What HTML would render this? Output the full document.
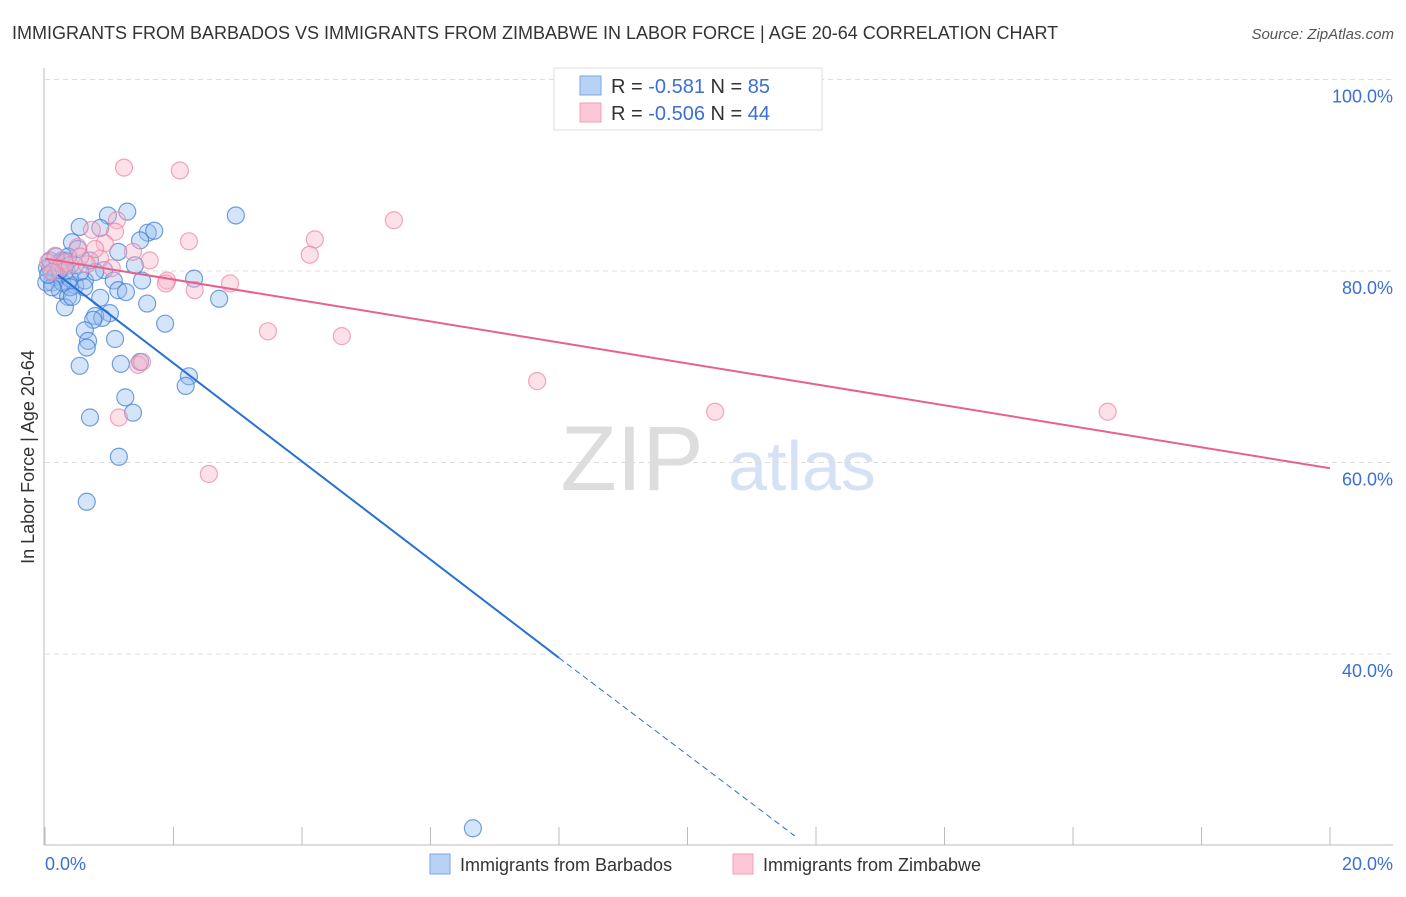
<!DOCTYPE html>
<html><head><meta charset="utf-8"><style>
body{margin:0;background:#fff;font-family:"Liberation Sans",sans-serif}
svg text{font-family:"Liberation Sans",sans-serif}
</style></head><body>
<svg id="chart" width="1406" height="892" xmlns="http://www.w3.org/2000/svg">
<text x="12" y="39" font-size="18" fill="#333">IMMIGRANTS FROM BARBADOS VS IMMIGRANTS FROM ZIMBABWE IN LABOR FORCE | AGE 20-64 CORRELATION CHART</text>
<text x="1394" y="39" font-size="15" fill="#555" text-anchor="end" font-style="italic">Source: ZipAtlas.com</text>
<g>
<text x="632" y="490" font-size="92" fill="#ddd" font-family="Liberation Serif,serif" text-anchor="middle">ZIP</text>
<text x="802" y="490" font-size="70" fill="#d5e2f5" text-anchor="middle">atlas</text>
</g>
<g id="grid"></g>
<g id="axes"></g>
<g id="pts"></g>
<g id="trend"></g>
<text transform="translate(34,457) rotate(-90)" font-size="18" fill="#333" text-anchor="middle">In Labor Force | Age 20-64</text>
<g>
<rect x="554" y="68" width="268" height="62" fill="#fff" stroke="#ddd"/>
<rect x="580" y="76" width="21" height="19" fill="#b8d2f5" stroke="#7aa6e6"/>
<rect x="580" y="103" width="21" height="19" fill="#fcc8d8" stroke="#f0a0b8"/>
<text x="611" y="93" font-size="20" fill="#333">R = <tspan fill="#3b6fd4"> -0.581</tspan>   N = <tspan fill="#3b6fd4">85</tspan></text>
<text x="611" y="120" font-size="20" fill="#333">R = <tspan fill="#3b6fd4">-0.506</tspan>   N = <tspan fill="#3b6fd4">44</tspan></text>
</g>
<g>
<rect x="430" y="854" width="20" height="20" fill="#b8d2f5" stroke="#7aa6e6"/>
<text x="460" y="871" font-size="18" fill="#333">Immigrants from Barbados</text>
<rect x="733" y="854" width="20" height="20" fill="#fcc8d8" stroke="#f0a0b8"/>
<text x="763" y="871" font-size="18" fill="#333">Immigrants from Zimbabwe</text>
</g>
</svg>
<script>
const yTicks=[100,80,60,40];
const yTickLabels=["100.0%","80.0%","60.0%","40.0%"];
const xTicks=[0,2,4,6,8,10,12,14,16,18,20];
const blueX=[2.97,1.28,0.98,0.54,0.86,1.60,1.70,1.48,0.42,0.51,1.14,1.40,0.92,0.26,0.08,0.16,0.11,0.23,0.36,0.31,0.47,0.62,0.78,1.07,1.14,1.26,0.86,1.51,2.32,2.71,1.59,1.01,0.78,0.89,0.75,1.87,0.62,1.09,0.67,0.65,0.54,1.18,1.48,2.24,2.19,1.25,1.37,0.70,1.15,0.65,6.66,0.03,0.08,0.16,0.20,0.27,0.33,0.39,0.02,0.11,0.23,0.31,0.39,0.47,0.55,0.05,0.17,0.36,0.70,0.61,0.42];
const blueY=[85.8,86.2,85.8,84.6,84.5,84.0,84.2,83.2,83.0,82.3,82.0,80.6,80.1,81.1,80.3,79.6,78.8,78.0,77.3,76.2,78.5,79.0,79.9,79.0,78.0,77.8,77.2,79.0,79.2,77.1,76.6,75.6,75.3,75.1,74.9,74.5,73.8,72.9,72.7,72.0,70.1,70.3,70.5,69.0,68.0,66.8,65.2,64.7,60.6,55.9,21.8,80.3,81.1,79.4,80.8,78.8,80.1,79.2,78.8,78.3,80.1,81.1,78.3,80.6,79.9,79.6,81.5,81.5,81.1,78.3,77.3];
const pinkX=[1.23,2.10,5.43,1.12,0.73,1.09,4.20,2.24,0.93,0.51,4.12,1.37,1.63,0.86,0.16,0.31,0.65,1.04,1.90,1.88,2.33,2.88,3.47,4.62,1.45,1.51,7.66,10.43,16.54,1.15,2.55,0.05,0.23,0.39,0.11,0.55,0.78];
const pinkY=[90.8,90.5,85.3,85.3,84.3,84.1,83.3,83.1,82.9,82.5,81.7,82.0,81.1,81.3,81.6,80.9,80.7,80.3,79.0,78.7,78.0,78.7,73.7,73.2,70.2,70.5,68.5,65.3,65.3,64.7,58.8,80.9,80.3,80.6,79.9,81.5,82.3];
const blueTrend=[[0.2,79.6],[8,39.6]];
const blueDash=[[8,39.6],[11.67,21]];
const pinkTrend=[[0,81.3],[20,59.4]];
const X=v=>45+v*64.25, Y=v=>79.5+(100-v)*9.575;
const NS="http://www.w3.org/2000/svg";
function mk(tag,attrs,parent){const e=document.createElementNS(NS,tag);for(const k in attrs)e.setAttribute(k,attrs[k]);document.getElementById(parent).appendChild(e);return e;}
yTicks.forEach((t,i)=>{
 const g=mk('line',{x1:45,x2:1393,y1:Y(t),y2:Y(t),stroke:'#ddd','stroke-dasharray':'5,4'},'grid');
 
 
 const l=mk('text',{x:1393,y:Y(t)+23,'font-size':18,fill:'#3b6fd4','text-anchor':'end'},'grid');
 l.textContent=yTickLabels[i];
 
 
});
let a=mk('line',{x1:44,x2:44,y1:68,y2:845,stroke:'#bbb'},'axes');


a=mk('line',{x1:44,x2:1393,y1:845,y2:845,stroke:'#bbb'},'axes');


xTicks.forEach(t=>{const k=mk('line',{x1:X(t),x2:X(t),y1:827,y2:845,stroke:'#bbb'},'axes');
 
 });
let xl=mk('text',{x:45,y:870,'font-size':18,fill:'#3b6fd4'},'axes');xl.textContent='0.0%';


xl=mk('text',{x:1393,y:870,'font-size':18,fill:'#3b6fd4','text-anchor':'end'},'axes');xl.textContent='20.0%';


blueX.forEach((v,i)=>{const c=mk('circle',{cx:X(v),cy:Y(blueY[i]),r:8.5,fill:'rgba(150,190,240,0.4)',stroke:'rgba(60,120,210,0.7)','stroke-width':1.2},'pts');
 
 });
pinkX.forEach((v,i)=>{const c=mk('circle',{cx:X(v),cy:Y(pinkY[i]),r:8.5,fill:'rgba(250,180,200,0.4)',stroke:'rgba(235,130,165,0.7)','stroke-width':1.2},'pts');
 
 });
let t=mk('line',{x1:X(blueTrend[0][0]),y1:Y(blueTrend[0][1]),x2:X(blueTrend[1][0]),y2:Y(blueTrend[1][1]),stroke:'#2a6fd6','stroke-width':2},'trend');


t=mk('line',{x1:X(blueDash[0][0]),y1:Y(blueDash[0][1]),x2:X(blueDash[1][0]),y2:Y(blueDash[1][1]),stroke:'#2a6fd6','stroke-width':1,'stroke-dasharray':'6,4'},'trend');


t=mk('line',{x1:X(pinkTrend[0][0]),y1:Y(pinkTrend[0][1]),x2:X(pinkTrend[1][0]),y2:Y(pinkTrend[1][1]),stroke:'#e8608c','stroke-width':2},'trend');


</script>
</body></html>
